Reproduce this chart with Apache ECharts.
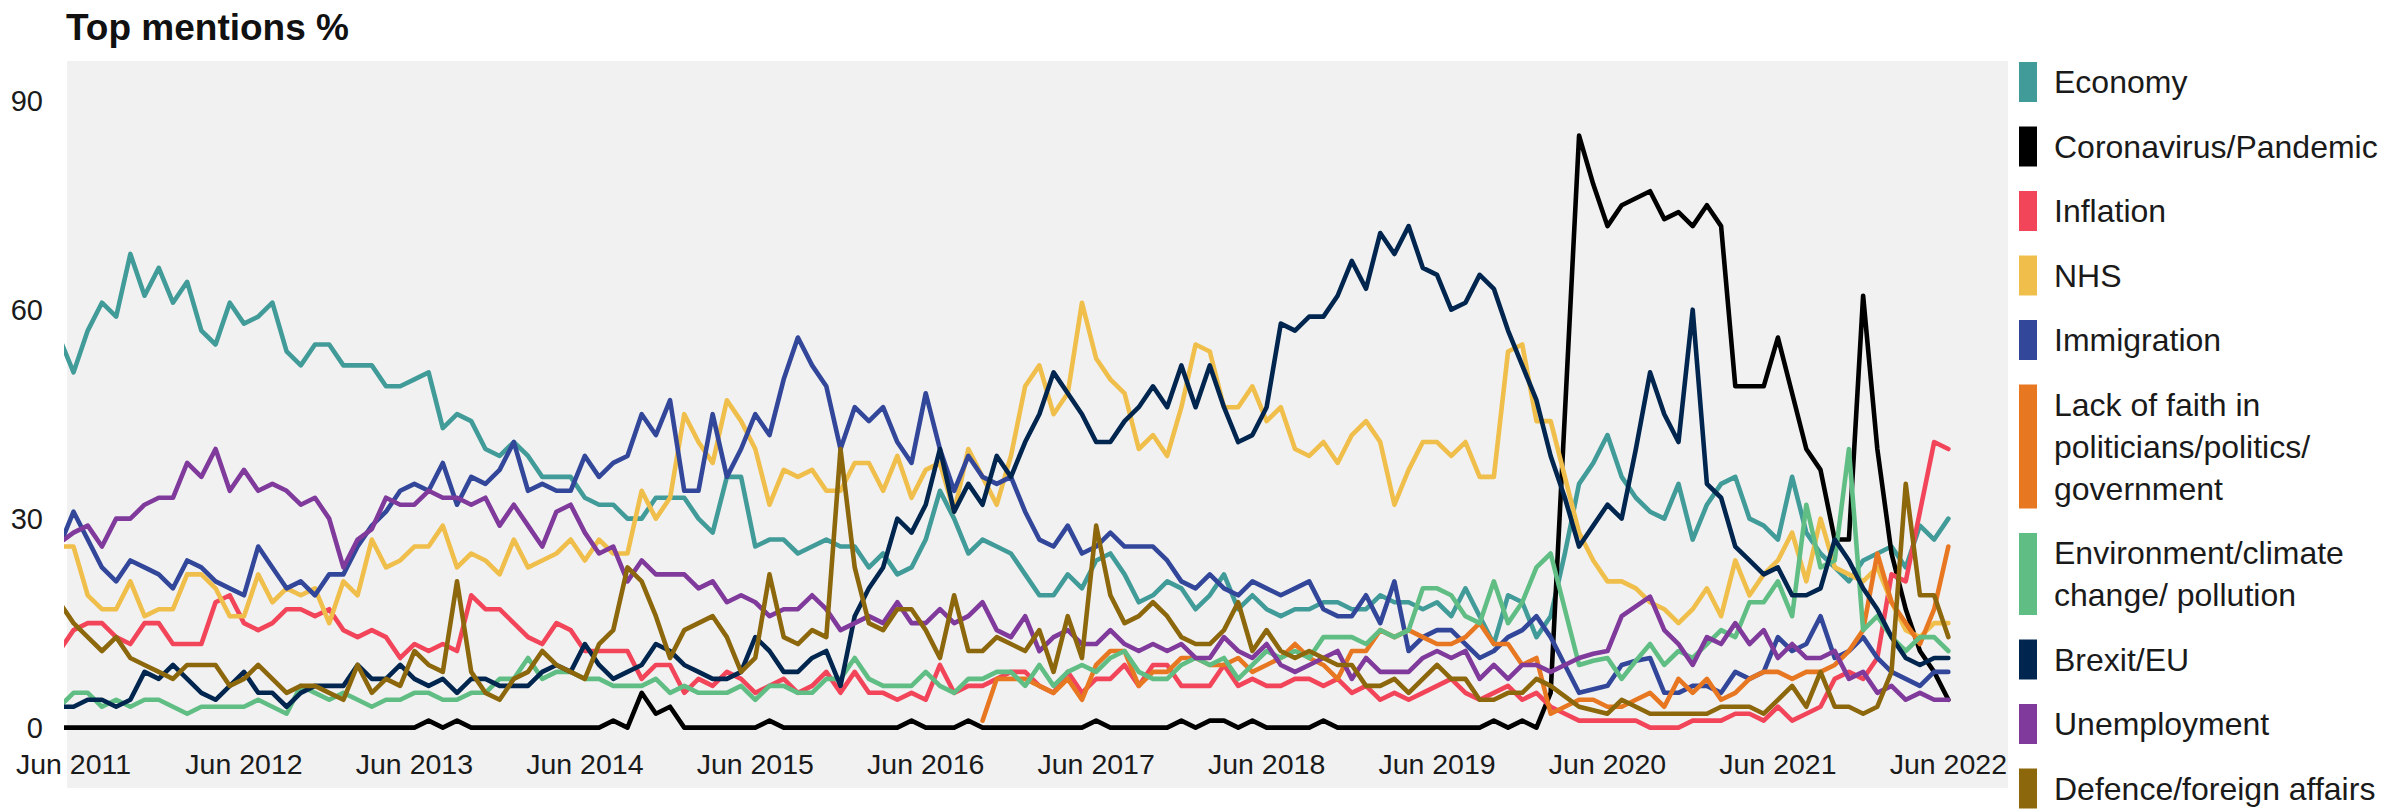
<!DOCTYPE html>
<html>
<head>
<meta charset="utf-8">
<script src="https://cdn.jsdelivr.net/npm/echarts@6/dist/echarts.min.js"></script>
<style>
html,body{margin:0;padding:0;background:#ffffff;}
#chart{width:2405px;height:809px;}
</style>
</head>
<body>
<div id="chart"></div>
<script>
// ---- categories: monthly, May 2011 (index -1) .. Jun 2022 (index 132); Jun 2011 = 0
const MONTH_NAMES = ['Jan','Feb','Mar','Apr','May','Jun','Jul','Aug','Sep','Oct','Nov','Dec'];
const months = [];
for (let m = -1; m <= 132; m++) {
  const k = 5 + m;
  months.push(MONTH_NAMES[((k % 12) + 12) % 12] + ' ' + (2011 + Math.floor(k / 12)));
}

// ---- tick labels
const xTickLabels = ['Jun 2011','Jun 2012','Jun 2013','Jun 2014','Jun 2015','Jun 2016',
  'Jun 2017','Jun 2018','Jun 2019','Jun 2020','Jun 2021','Jun 2022'];
const yTicks = [0, 30, 60, 90];

// ---- series values (one per month, May 2011 .. Jun 2022)
const economy = [56,51,57,61,59,68,62,66,61,64,57,55,61,58,59,61,54,52,55,55,52,52,52,49,49,50,
  51,43,45,44,40,39,41,39,36,36,36,33,32,32,30,30,33,33,33,30,28,36,36,26,27,27,25,
  26,27,26,26,23,25,22,23,27,34,30,25,27,26,25,22,19,19,22,20,24,25,22,18,19,21,20,
  17,19,22,17,19,17,16,17,17,18,18,17,17,19,18,18,17,18,16,20,16,12,19,18,13,16,
  25,35,38,42,36,33,31,30,35,27,32,35,36,30,29,27,36,28,25,23,21,24,25,26,23,29,27,30];

const coronavirus = [0,0,0,0,0,0,0,0,0,0,
  0,0,0,0,0,0,0,0,0,0,
  0,0,0,0,0,0,1,0,1,0,
  0,0,0,0,0,0,0,0,0,1,
  0,5,2,3,0,0,0,0,0,0,
  1,0,0,0,0,0,0,0,0,0,
  1,0,0,0,1,0,0,0,0,0,
  0,0,0,1,0,0,0,0,0,1,
  0,1,1,0,1,0,0,0,0,1,
  0,0,0,0,0,0,0,0,0,0,
  0,1,0,1,0,
  5,45,85,78,72,75,76,77,73,74,72,75,72,49,49,49,56,48,40,37,27,27,62,40,25,17,11,8,4];

const inflation = [11,14,15,15,13,12,15,15,12,12,12,18,19,15,14,15,17,17,16,17,14,13,14,13,10,12,
  11,12,11,19,17,17,15,13,12,15,14,11,11,11,11,7,9,9,5,7,6,8,7,5,6,7,5,
  6,8,5,8,5,5,4,5,4,9,5,6,6,7,8,8,6,5,8,5,7,7,9,6,9,9,6,
  6,6,9,6,7,6,6,7,7,6,7,5,6,4,5,4,5,6,7,5,4,5,6,4,5,3,
  2,1,1,1,1,1,0,0,0,1,1,1,2,2,1,3,1,2,3,7,8,7,10,22,21,31,41,40];

const nhs = [26,26,19,17,17,21,16,17,17,22,22,20,16,16,22,18,20,19,20,15,21,19,27,23,24,26,
  26,29,23,25,24,22,27,23,24,25,27,24,27,25,25,34,30,33,45,41,38,47,44,40,32,37,36,
  37,34,34,38,38,34,39,33,37,38,31,40,36,32,39,49,52,45,48,61,53,50,48,40,42,39,46,
  55,54,46,46,49,44,46,40,39,41,38,42,44,41,32,37,41,41,39,41,36,36,54,55,44,44,
  36,28,24,21,21,20,18,17,15,17,20,16,24,19,22,24,28,21,30,23,22,21,23,18,14,13,15,15];

const immigration = [26,31,27,23,21,24,23,22,20,24,23,21,20,19,26,23,20,21,19,22,22,26,29,31,34,35,
  34,38,32,36,35,37,41,34,35,34,34,39,36,38,39,45,42,47,34,34,45,36,40,45,42,50,56,
  52,49,40,46,44,46,41,38,48,40,34,39,36,35,36,31,27,26,29,25,26,28,26,26,26,24,21,
  20,22,20,19,21,20,19,20,21,17,16,16,19,15,21,11,13,14,14,12,10,11,13,14,16,13,
  9,5,5.5,6,9,9.6,10,5,5,6,6,5,8,7,8,13,11,12,16,10,11,13,10,8,7,6,8,8];

const lackOfFaith = [null,null,null,null,null,null,null,null,null,null,
  null,null,null,null,null,null,null,null,null,null,
  null,null,null,null,null,null,null,null,null,null,
  null,null,null,null,null,null,null,null,null,null,
  null,null,null,null,null,null,null,null,null,null,
  null,null,null,null,null,null,null,null,null,null,
  null,null,null,null,null,
  1,7,7,7,6,5,7,4,9,11,11,6,8,8,10,
  10,9,9,10,8,9,10,12,10,9,7,11,11,14,13,14,13,12,12,13,15,12,12,9,10,2,
  3,4,4,3,3,4,5,3,7,5,7,4,5,7,8,8,7,8,8,9,11,14,25,18,15,12,17,26];

const environment = [3,5,5,3,4,3,4,4,3,2,3,3,3,3,4,3,2,6,5,4,5,4,3,4,4,5,
  5,4,4,5,5,7,7,10,7,8,8,7,7,6,6,6,7,5,6,5,5,5,6,4,6,6,5,
  5,7,7,10,7,6,6,6,8,6,5,7,7,8,8,6,9,6,8,9,8,10,11,8,7,7,9,
  10,9,10,7,9,11,10,11,10,13,13,13,12,14,13,14,20,20,19,16,15,21,15,18,23,25,
  17,9,9.6,10,7,9.6,12,9,11,10,12,14,13,18,18,21,16,32,23,24,40,14,16,13,11,13,13,11];

const brexit = [3,3,4,4,3,4,8,7,9,7,5,4,6,8,5,5,3,5,6,6,6,9,7,7,9,7,
  6,7,5,7,7,6,6,6,8,9,8,12,9,7,8,9,12,11,9,8,7,7,8,13,11,8,8,
  10,11,6,16,20,23,30,28,32,40,31,35,32,39,36,41,45,51,48,45,41,41,44,46,49,46,52,
  46,52,46,41,42,46,58,57,59,59,62,67,63,71,68,72,66,65,60,61,65,63,57,52,47,39,
  33,26,29,32,30,40,51,45,41,60,35,33,26,24,22,23,19,19,20,27,24,20,17,13,10,9,10,10];

const unemployment = [26.5,28,29,26,30,30,32,33,33,38,36,40,34,37,34,35,34,32,33,30,23,27,28.5,33,32,32,
  34,33,33,32,33,29,32,29,26,31,32,28,25,26,21,24,22,22,22,20,21,18,19,18,16,17,17,
  19,17,14,15,16,15,18,15,15,17,15,16,18,14,13,16,11,13,14,12,12,14,12,11,12,11,12,
  10,10,13,11,10,12,9,8,9,10,11,7,10,8,8,8,10,11,10,11,7,9,7,9,9,8,
  9,10,10.6,11,16,17.4,18.8,14,12,9,13,12,15,12,14,10,12,10,10,11,7,8,5,6,4,5,4,4];

const defence = [18,15,13,11,13,10,9,8,7,9,9,9,6,7,9,7,5,6,6,5,4,9,5,7,6,11,
  9,8,21,8,5,4,7,8,11,9,8,7,12,14,23,21,16,10,14,15,16,13,8,10,22,13,12,
  14,13,40,23,15,14,17,17,14,10,19,11,11,13,12,11,14,8,16,10,29,19,15,16,18,16,13,
  12,12,14,18,11,14,11,10,11,10,9,9,6,6,7,5,7,9,7,7,4,4,5,5,7,6,
  4.5,3,2.5,2,4,3,2,2,2,2,2,3,3,3,2,4,6,3,8,3,3,2,3,8,35,19,19,13];

const seriesNames = ['Economy','Coronavirus/Pandemic','Inflation','NHS','Immigration',
  'Lack of faith in politicians/politics/government','Environment/climate change/ pollution',
  'Brexit/EU','Unemployment','Defence/foreign affairs'];
const legendLabels = ['Economy','Coronavirus/Pandemic','Inflation','NHS','Immigration',
  'Lack of faith in\npoliticians/politics/\ngovernment','Environment/climate\nchange/ pollution',
  'Brexit/EU','Unemployment','Defence/foreign affairs'];
const seriesColors = ['#419b98','#000000','#f2455a','#f0be4a','#32469a',
  '#e87722','#60be85','#00264f','#7f3a9b','#8c670c'];
const seriesValues = [economy, coronavirus, inflation, nhs, immigration,
  lackOfFaith, environment, brexit, unemployment, defence];

// ---- build options
const FONT = "'Liberation Sans', Arial, Helvetica, sans-serif";
const labelOf = {};
seriesNames.forEach((n, i) => { labelOf[n] = legendLabels[i]; });

const chartSeries = seriesNames.map((name, i) => ({
  name: name,
  type: 'line',
  data: seriesValues[i].map((v, j) => [j - 1, v]),
  showSymbol: false,
  symbol: 'none',
  connectNulls: false,
  clip: true,
  color: seriesColors[i],
  lineStyle: { width: 4.6, color: seriesColors[i], join: 'round', cap: 'round' },
  itemStyle: { color: seriesColors[i], borderWidth: 0 },
  emphasis: { disabled: true },
  silent: true,
  animation: false
}));

// legend: one block per entry, swatch height follows number of text lines
const LINE_H = 42, ONE_H = 40, GAP = 24.5;
const legendBlocks = [];
let legendTop = 61;
seriesNames.forEach((name, i) => {
  const nLines = legendLabels[i].split('\n').length;
  const h = ONE_H + LINE_H * (nLines - 1);
  legendBlocks.push({
    data: [name],
    left: 2019,
    top: legendTop,
    orient: 'vertical',
    icon: 'rect',
    itemWidth: 18,
    itemHeight: h,
    padding: 0,
    selectedMode: false,
    itemStyle: { borderWidth: 0 },
    formatter: (n) => labelOf[n],
    textStyle: {
      fontFamily: FONT, fontSize: 32, color: '#1a1a1a',
      lineHeight: LINE_H, padding: [0, 0, 0, 12]
    }
  });
  legendTop += h + GAP;
});

const option = {
  backgroundColor: '#ffffff',
  animation: false,
  title: {
    text: 'Top mentions %',
    left: 61, top: 4,
    textStyle: { fontFamily: FONT, fontSize: 37, fontWeight: 'bold', color: '#111111' }
  },
  graphic: [{
    type: 'rect', silent: true, z: -10,
    shape: { x: 67, y: 61, width: 1941, height: 727 },
    style: { fill: '#f1f1f1' }
  }],
  legend: legendBlocks,
  grid: { left: 67, right: 397, top: 61, bottom: 73, containLabel: false },
  xAxis: {
    type: 'value',
    min: -0.46, max: 136.2,
    axisLine: { show: false },
    axisTick: { show: false },
    splitLine: { show: false },
    axisLabel: {
      customValues: xTickLabels.map((_, i) => i * 12),
      formatter: (v) => xTickLabels[Math.round(v / 12)],
      margin: 13,
      fontFamily: FONT, fontSize: 28.5, color: '#1a1a1a'
    }
  },
  yAxis: {
    type: 'value',
    min: -1.2, max: 95.7,
    axisLine: { show: false },
    axisTick: { show: false },
    splitLine: { show: false },
    axisLabel: {
      customValues: yTicks,
      margin: 24,
      fontFamily: FONT, fontSize: 29, color: '#1a1a1a'
    }
  },
  series: chartSeries
};

const chart = echarts.init(document.getElementById('chart'), null, { renderer: 'svg', width: 2405, height: 809 });
chart.setOption(option);
</script>
</body>
</html>
